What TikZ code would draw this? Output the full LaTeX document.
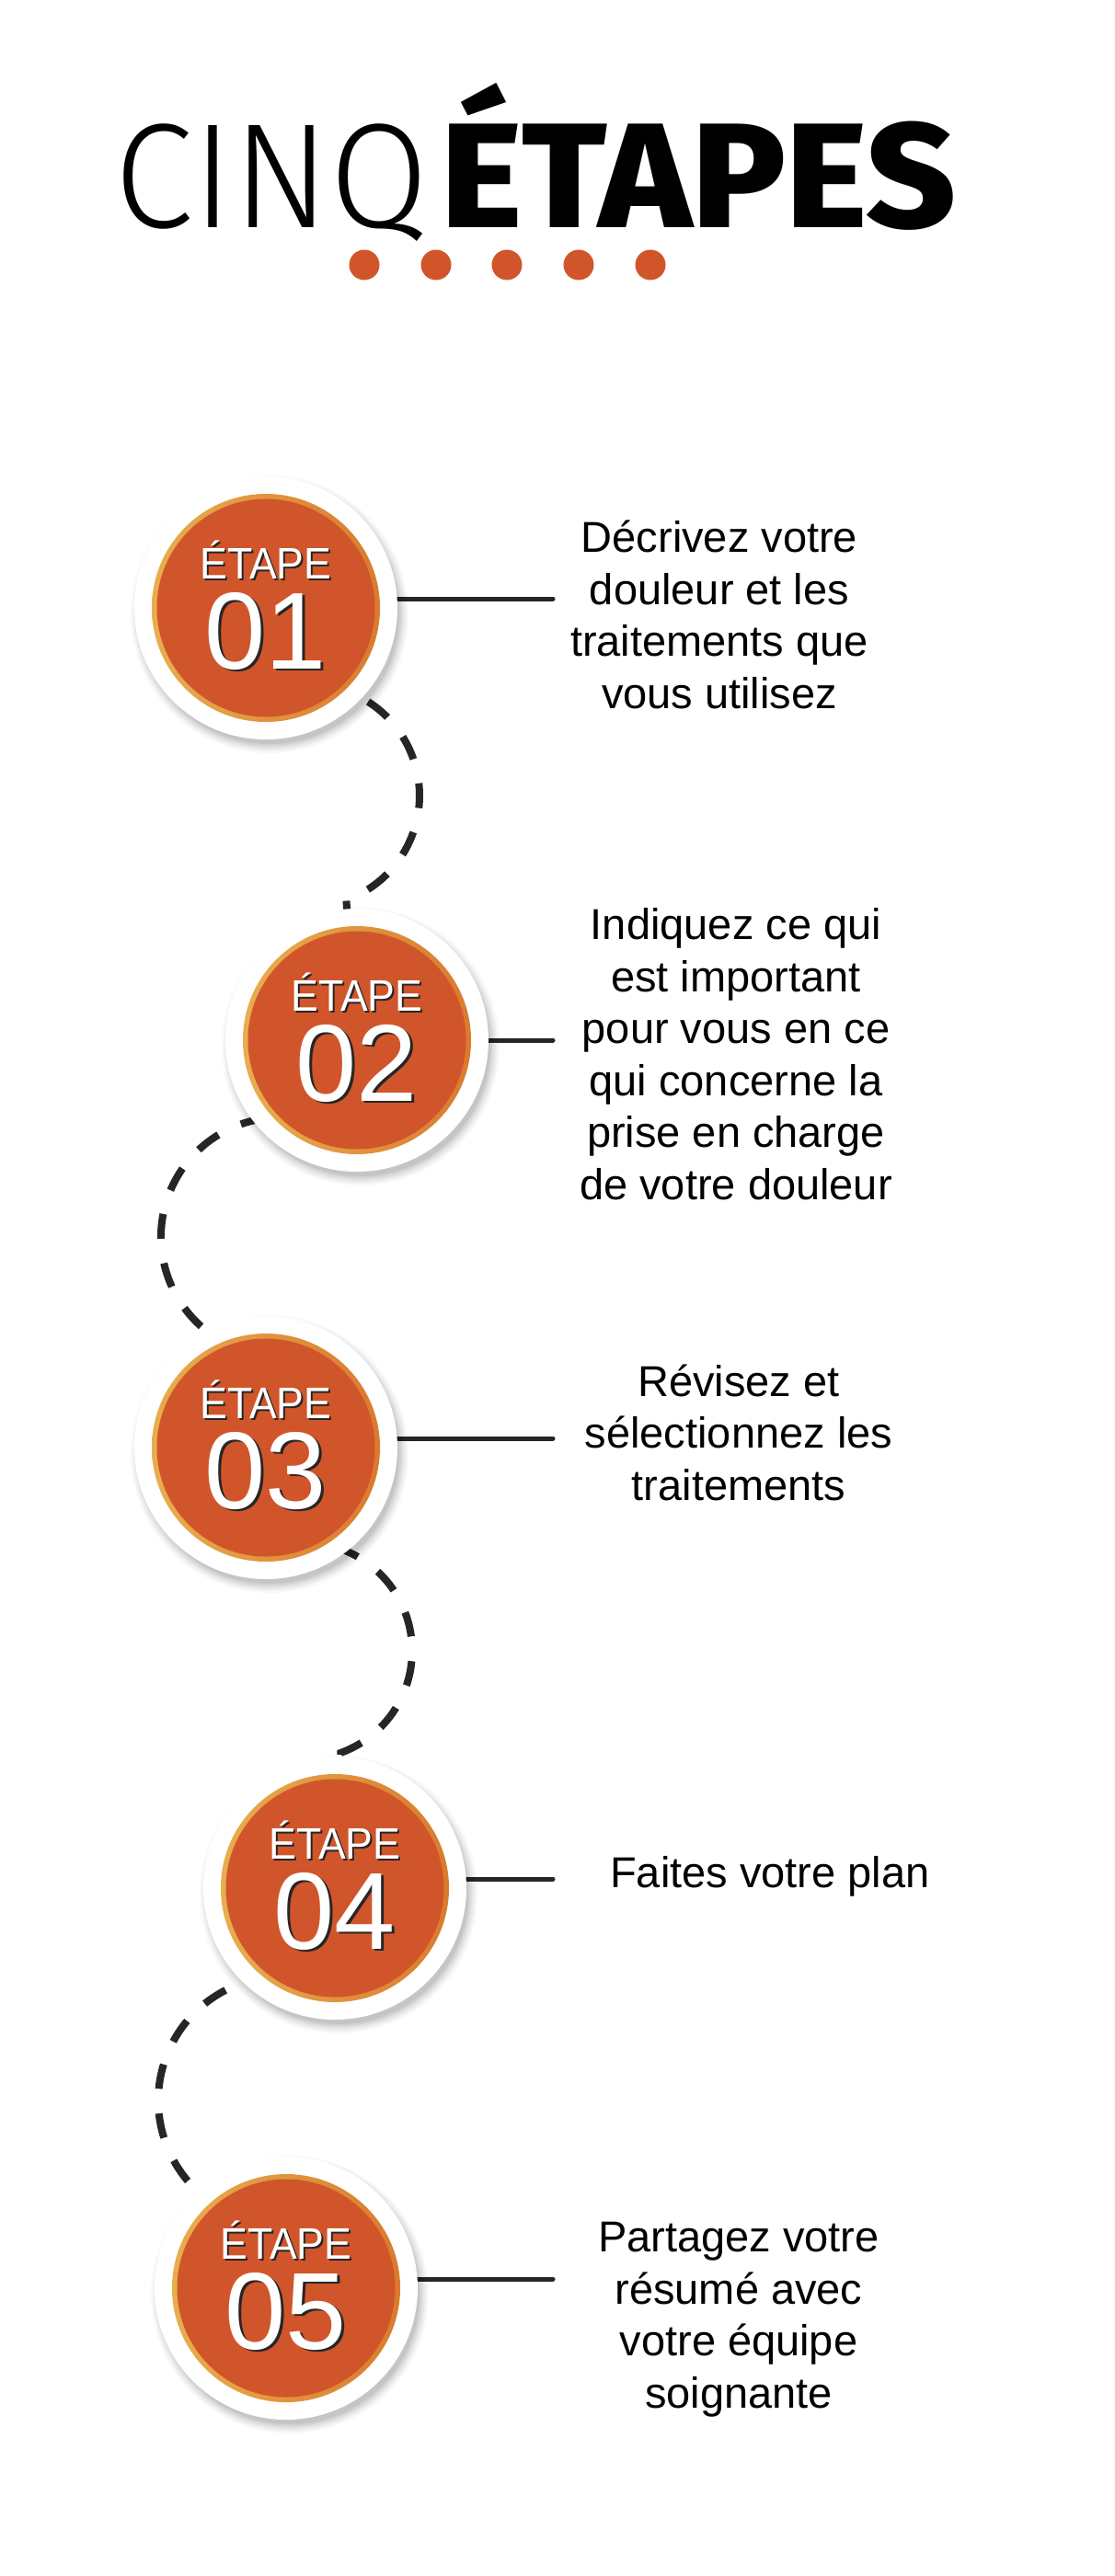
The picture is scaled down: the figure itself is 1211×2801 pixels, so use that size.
\documentclass[tikz,border=0pt]{standalone}
\usepackage{fontspec}
\usepackage{graphicx}
\setmainfont{Liberation Sans}
\newfontfamily\titlefont{Fira Sans}[UprightFont=* Light, BoldFont=* ExtraBold]
\newfontfamily\narrowfont{Liberation Sans}[FakeStretch=0.93]
\usetikzlibrary{calc}
\definecolor{stepred}{RGB}{209,85,43}
\definecolor{ringgold}{RGB}{232,174,78}
\definecolor{ringorange}{RGB}{218,122,46}
\definecolor{inkdark}{RGB}{38,38,38}
\newcommand\shadowedtext[3]{\rlap{\hspace{#2}\raisebox{-#3}{\textcolor{black!85}{#1}}}\textcolor{white}{#1}}
\pgfdeclarelayer{background}
\pgfsetlayers{background,main}
\begin{document}
\begin{tikzpicture}[x=1pt,y=-1pt,
  outerdisk/.style={circle, fill=white, minimum size=286pt, inner sep=0pt},
  softshadow/.style={fill=black, fill opacity=#1},
  conn/.style={draw=inkdark, line width=5pt, line cap=round},
  dashconn/.style={draw=inkdark, line width=8pt, dash pattern=on 27pt off 27pt},
  etapelbl/.style={font=\narrowfont\fontsize{48}{48}\selectfont, inner sep=0pt, anchor=base},
  numlbl/.style={font=\fontsize{119}{119}\selectfont, inner sep=0pt, anchor=base},
  bodytxt/.style={font=\fontsize{47}{56.5}\selectfont, align=center, inner sep=0pt, anchor=base, text=black},
  titletxt/.style={inner sep=0pt, anchor=base west, text=black}
]
\useasboundingbox (0,0) rectangle (1211,2801);
\begin{pgfonlayer}{background}
  \fill[white] (0,0) rectangle (1211,2801);
\end{pgfonlayer}

% title
\node[titletxt] (cinq) at (124,247) {\resizebox{342pt}{\height}{\titlefont\fontsize{162}{162}\selectfont CINQ}};
\node[titletxt] (etapes) at (479,247) {\resizebox{560pt}{\height}{\titlefont\bfseries\fontsize{162}{162}\selectfont ÉTAPES}};
\foreach \dx in {396,474,551,629,707} {
  \fill[stepred] (\dx,288) circle[radius=16.5pt];
}

% step circles
\foreach \n/\x/\y in {1/289/661, 2/388/1131, 3/289/1574, 4/364/2053, 5/311/2488} {
  \foreach \r/\op in {151/0.025,149/0.03,147/0.035,145/0.04,143/0.05,141/0.06} {
    \fill[softshadow=\op] (\x+4,\y+7) circle[radius=\r pt];
  }
  \node[outerdisk] (c\n) at (\x,\y) {};
  \shade[left color=ringgold, right color=ringorange] (c\n) circle[radius=124pt];
  \fill[stepred] (c\n) circle[radius=118.5pt];
  \node[etapelbl] (e\n) at (\x,\y-32) {\shadowedtext{ÉTAPE}{1.8pt}{2pt}};
  \node[numlbl] (n\n) at (\x,\y+66) {\shadowedtext{0\n}{2.5pt}{2.5pt}};
}

% texts (anchor base = baseline of the last line)
\node[bodytxt] (t1) at (782,770) {Décrivez votre\\douleur et les\\traitements que\\vous utilisez};
\node[bodytxt] (t2) at (800,1304) {Indiquez ce qui\\est important\\pour vous en ce\\qui concerne la\\prise en charge\\de votre douleur};
\node[bodytxt] (t3) at (803,1631) {Révisez et\\sélectionnez les\\traitements};
\node[bodytxt] (t4) at (837,2052) {Faites votre plan};
\node[bodytxt] (t5) at (803,2618) {Partagez votre\\résumé avec\\votre équipe\\soignante};

% connectors
\begin{pgfonlayer}{background}
  \coordinate (e1) at (601,651);
  \coordinate (e2) at (601,1131);
  \coordinate (e3) at (601,1564);
  \coordinate (e4) at (601,2043);
  \coordinate (e5) at (601,2478);
  \foreach \n in {1,...,5} {
    \draw[conn] (c\n.center |- e\n) -- (e\n);
  }
  \coordinate (k12) at (335,865);
  \coordinate (k23) at (305,1345);
  \coordinate (k34) at (330,1795);
  \coordinate (k45) at (307,2284);
  \draw[dashconn] (c1.center) -- ($(k12)+(115:121pt)$) arc[start angle=115, end angle=-70, radius=121pt] -- (c2.center);
  \draw[dashconn] (c2.center) -- ($(k23)+(70:130pt)$) arc[start angle=70, end angle=245, radius=130pt] -- (c3.center);
  \draw[dashconn] (c3.center) -- ($(k34)+(100:118pt)$) arc[start angle=100, end angle=-70, radius=118pt] -- (c4.center);
  \draw[dashconn] (c4.center) -- ($(k45)+(70:135pt)$) arc[start angle=70, end angle=240, radius=135pt] -- (c5.center);
\end{pgfonlayer}
\end{tikzpicture}
\end{document}
